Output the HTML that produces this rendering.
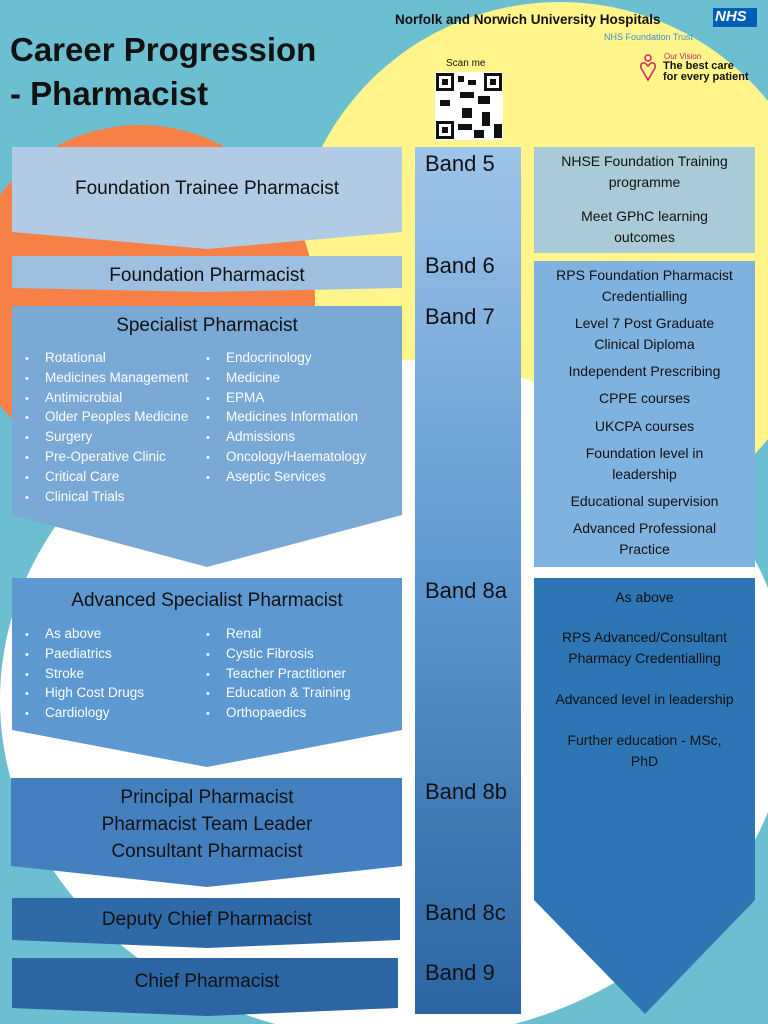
<!DOCTYPE html>
<html><head><meta charset="utf-8"><style>
body{margin:0;width:768px;height:1024px;overflow:hidden;background:#6cbfd0;font-family:"Liberation Sans",sans-serif;position:relative}
.a{position:absolute}
.t{position:absolute;text-align:center;color:#111}
ul{margin:0;padding:0;list-style:none}
li{color:#fff;font-size:13.5px;line-height:18.8px;white-space:nowrap}
li:before{content:"•";display:inline-block;width:20px;font-size:11px}
.band{position:absolute;left:425px;font-size:22px;color:#111}
.r{position:absolute;left:534px;width:221px;font-size:14px;text-align:center;color:#111;white-space:nowrap}
</style></head><body>
<svg class="a" style="left:0;top:0" width="768" height="1024">
<circle cx="560" cy="270" r="268" fill="#fff58a"/>
<circle cx="140" cy="300" r="175" fill="#f68045"/>
<ellipse cx="395" cy="700" rx="395" ry="340" fill="#fff"/>
<defs><linearGradient id="g" x1="0" y1="0" x2="0" y2="1"><stop offset="0" stop-color="#9dc4e8"/><stop offset="0.5" stop-color="#5c97d0"/><stop offset="1" stop-color="#2b65a3"/></linearGradient></defs>
<rect x="415" y="147" width="106" height="867" fill="url(#g)"/>
<polygon points="12,147 402,147 402,232 207,249 12,232" fill="#b1cbe5"/>
<polygon points="12,256 402,256 402,288 207,292 12,288" fill="#9dbfe0"/>
<polygon points="12,306 402,306 402,515 207,567 12,515" fill="#7aa9d6"/>
<polygon points="12,578 402,578 402,730 207,767 12,730" fill="#5e98d0"/>
<polygon points="11,778 402,778 402,866 207,887 11,866" fill="#4480bf"/>
<polygon points="12,898 400,898 400,940 207,948 12,940" fill="#2f6aa8"/>
<polygon points="12,958 398,958 398,1008 207,1016 12,1008" fill="#2b65a3"/>
<rect x="534" y="147" width="221" height="106" fill="#a8cbd7"/>
<rect x="534" y="261" width="221" height="306" fill="#80b2e0"/>
<polygon points="534,578 755,578 755,900 645,1014 534,900" fill="#2e75b6"/>
<rect x="435" y="72" width="68" height="68" fill="#fff"/>
<g fill="#111">
<rect x="436" y="73" width="18" height="18"/><rect x="484" y="73" width="18" height="18"/><rect x="436" y="121" width="18" height="18"/>
<rect x="458" y="76" width="6" height="6"/><rect x="468" y="80" width="8" height="5"/><rect x="460" y="92" width="14" height="6"/>
<rect x="440" y="100" width="10" height="6"/><rect x="478" y="96" width="12" height="8"/><rect x="462" y="108" width="10" height="10"/>
<rect x="482" y="112" width="8" height="14"/><rect x="458" y="124" width="14" height="6"/><rect x="494" y="124" width="8" height="14"/><rect x="474" y="130" width="10" height="8"/>
</g>
<g fill="#fff"><rect x="439" y="76" width="12" height="12"/><rect x="487" y="76" width="12" height="12"/><rect x="439" y="124" width="12" height="12"/></g>
<g fill="#111"><rect x="442" y="79" width="6" height="6"/><rect x="490" y="79" width="6" height="6"/><rect x="442" y="127" width="6" height="6"/></g>
<rect x="713" y="8" width="44" height="19" fill="#005eb8"/>
<circle cx="648" cy="58" r="3" fill="none" stroke="#c8235c" stroke-width="1.5"/>
<path d="M648 80 L641 68 Q640 62 645 63 L648 66 L651 63 Q656 62 655 68 Z" fill="none" stroke="#c8235c" stroke-width="1.5"/>
</svg>
<div class="a" style="left:10px;top:28px;font-size:33px;font-weight:bold;line-height:44px;color:#111">Career Progression<br>- Pharmacist</div>
<div class="a" style="left:395px;top:12px;font-size:13.5px;font-weight:bold;color:#111">Norfolk and Norwich University Hospitals</div>
<div class="a" style="left:715px;top:8px;font-size:15px;font-weight:bold;font-style:italic;color:#fff">NHS</div>
<div class="a" style="left:604px;top:32px;font-size:9px;color:#3a8fd5">NHS Foundation Trust</div>
<div class="a" style="left:664px;top:52px;font-size:8px;color:#c8235c">Our Vision</div>
<div class="a" style="left:663px;top:61px;font-size:11px;font-weight:bold;line-height:11px;color:#111">The best care<br>for every patient</div>
<div class="a" style="left:446px;top:58px;font-size:10px;color:#111">Scan me</div>

<div class="t" style="left:12px;width:390px;top:178px;font-size:19px">Foundation Trainee Pharmacist</div>
<div class="t" style="left:12px;width:390px;top:265px;font-size:19px">Foundation Pharmacist</div>
<div class="t" style="left:12px;width:390px;top:315px;font-size:19px">Specialist Pharmacist</div>
<ul class="a" style="left:25px;top:349px"><li>Rotational</li><li>Medicines Management</li><li>Antimicrobial</li><li>Older Peoples Medicine</li><li>Surgery</li><li>Pre-Operative Clinic</li><li>Critical Care</li><li>Clinical Trials</li></ul>
<ul class="a" style="left:206px;top:349px"><li>Endocrinology</li><li>Medicine</li><li>EPMA</li><li>Medicines Information</li><li>Admissions</li><li>Oncology/Haematology</li><li>Aseptic Services</li></ul>
<div class="t" style="left:12px;width:390px;top:590px;font-size:19px">Advanced Specialist Pharmacist</div>
<ul class="a" style="left:25px;top:625px"><li>As above</li><li>Paediatrics</li><li>Stroke</li><li>High Cost Drugs</li><li>Cardiology</li></ul>
<ul class="a" style="left:206px;top:625px"><li>Renal</li><li>Cystic Fibrosis</li><li>Teacher Practitioner</li><li>Education &amp; Training</li><li>Orthopaedics</li></ul>
<div class="t" style="left:12px;width:390px;top:784px;font-size:19px;line-height:27px">Principal Pharmacist<br>Pharmacist Team Leader<br>Consultant Pharmacist</div>
<div class="t" style="left:12px;width:390px;top:909px;font-size:19px">Deputy Chief Pharmacist</div>
<div class="t" style="left:12px;width:390px;top:971px;font-size:19px">Chief Pharmacist</div>

<div class="band" style="top:151px">Band 5</div>
<div class="band" style="top:253px">Band 6</div>
<div class="band" style="top:304px">Band 7</div>
<div class="band" style="top:578px">Band 8a</div>
<div class="band" style="top:779px">Band 8b</div>
<div class="band" style="top:900px">Band 8c</div>
<div class="band" style="top:960px">Band 9</div>

<div class="r" style="top:153px">NHSE Foundation Training</div>
<div class="r" style="top:174px">programme</div>
<div class="r" style="top:208px">Meet GPhC learning</div>
<div class="r" style="top:229px">outcomes</div>

<div class="r" style="top:267px">RPS Foundation Pharmacist</div>
<div class="r" style="top:288px">Credentialling</div>
<div class="r" style="top:315px">Level 7 Post Graduate</div>
<div class="r" style="top:336px">Clinical Diploma</div>
<div class="r" style="top:363px">Independent Prescribing</div>
<div class="r" style="top:390px">CPPE courses</div>
<div class="r" style="top:418px">UKCPA courses</div>
<div class="r" style="top:445px">Foundation level in</div>
<div class="r" style="top:466px">leadership</div>
<div class="r" style="top:493px">Educational supervision</div>
<div class="r" style="top:520px">Advanced Professional</div>
<div class="r" style="top:541px">Practice</div>

<div class="r" style="top:589px">As above</div>
<div class="r" style="top:629px">RPS Advanced/Consultant</div>
<div class="r" style="top:650px">Pharmacy Credentialling</div>
<div class="r" style="top:691px">Advanced level in leadership</div>
<div class="r" style="top:732px">Further education - MSc,</div>
<div class="r" style="top:753px">PhD</div>
</body></html>
